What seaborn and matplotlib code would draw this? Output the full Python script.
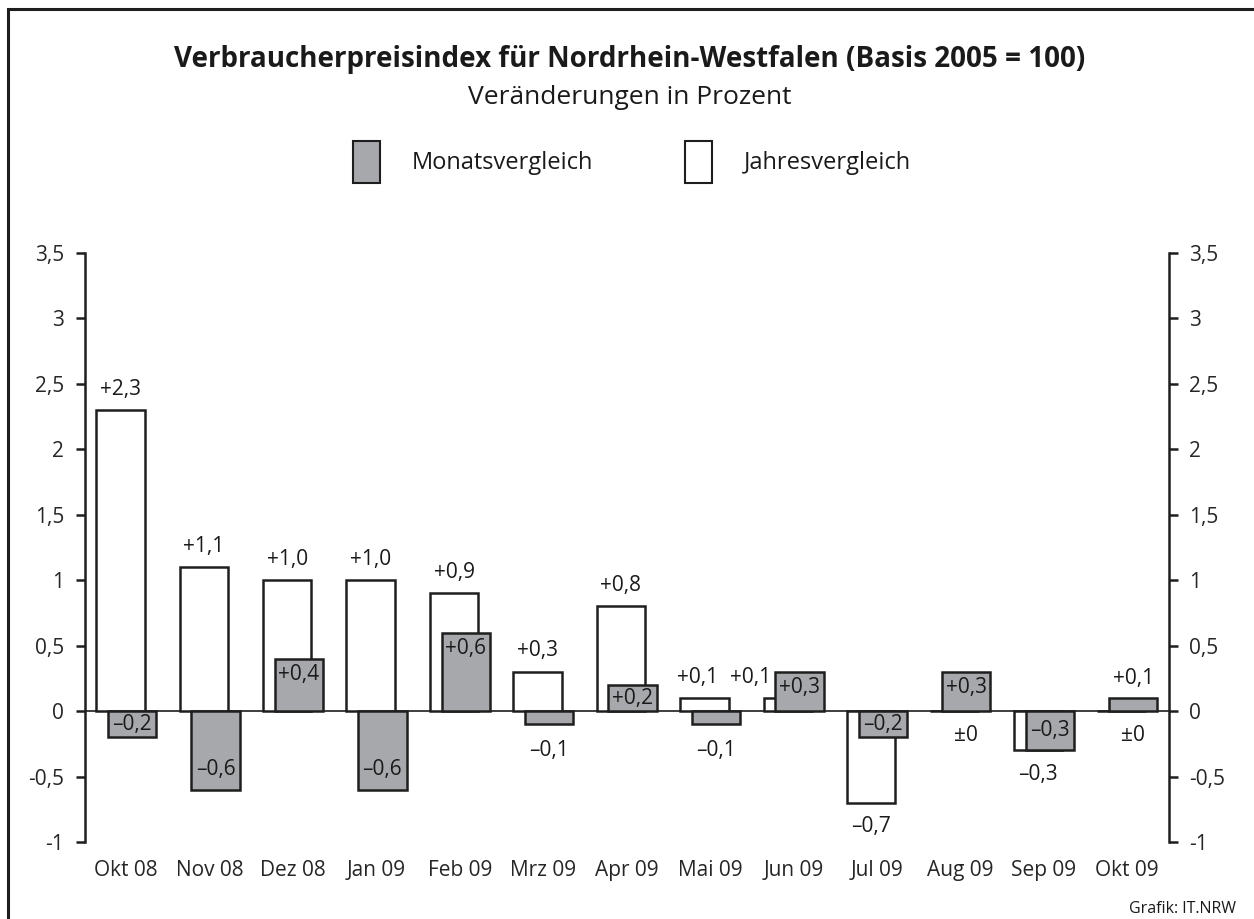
import numpy as np
import pandas as pd
import matplotlib
matplotlib.use("Agg")
import matplotlib.pyplot as plt
from matplotlib.patches import Patch, Rectangle
from matplotlib.ticker import FuncFormatter
import seaborn as sns

# ---------------- data ----------------
months = ["Okt 08", "Nov 08", "Dez 08", "Jan 09", "Feb 09", "Mrz 09", "Apr 09",
          "Mai 09", "Jun 09", "Jul 09", "Aug 09", "Sep 09", "Okt 09"]
monatsvergleich = [-0.2, -0.6, 0.4, -0.6, 0.6, -0.1, 0.2, -0.1, 0.3, -0.2, 0.3, -0.3, 0.1]
jahresvergleich = [2.3, 1.1, 1.0, 1.0, 0.9, 0.3, 0.8, 0.1, 0.1, -0.7, 0.0, -0.3, 0.0]
yticks = [-1, -0.5, 0, 0.5, 1, 1.5, 2, 2.5, 3, 3.5]

title = "Verbraucherpreisindex für Nordrhein-Westfalen (Basis 2005 = 100)"
subtitle = "Veränderungen in Prozent"
legend_labels = ["Monatsvergleich", "Jahresvergleich"]
source = "Grafik: IT.NRW"

# ---------------- style ----------------
sns.set_style("white")
plt.rcParams["font.family"] = ["Open Sans", "DejaVu Sans"]
plt.rcParams["text.color"] = "#1a1a1a"

GRAY = "#a7a8ac"
EDGE = "#1e1e1e"
FS = 15

fig = plt.figure(figsize=(12.54, 9.19), dpi=100)
ax = fig.add_axes([84.5 / 1254, 1 - 842 / 919, (1169 - 84.5) / 1254, (842 - 253) / 919])

idx = np.arange(len(months))
off = 0.07
width = 0.58
pos_j = idx - off
pos_m = idx + off

ax.axhline(0, color=EDGE, lw=1.2, zorder=0.5)

sns.barplot(x=pos_j, y=jahresvergleich, native_scale=True, width=width,
            color="white", saturation=1, edgecolor=EDGE, linewidth=1.8,
            errorbar=None, ax=ax)
sns.barplot(x=pos_m, y=monatsvergleich, native_scale=True, width=width,
            color=GRAY, saturation=1, edgecolor=EDGE, linewidth=1.8,
            errorbar=None, ax=ax)

ax.set_xlim(-0.5, 12.5)
ax.set_ylim(-1, 3.5)
ax.set_xlabel("")
ax.set_ylabel("")
ax.set_xticks(idx)
ax.set_xticklabels(months, fontsize=FS)
ax.set_yticks(yticks)
ax.yaxis.set_major_formatter(FuncFormatter(lambda v, p: f"{v:g}".replace(".", ",")))
ax.tick_params(axis="x", length=0, pad=13)
ax.tick_params(axis="y", which="major", direction="out", length=6.5, width=1.8,
               color=EDGE, labelsize=FS, pad=8, left=True, right=True,
               labelleft=True, labelright=True)
for s in ["top", "bottom"]:
    ax.spines[s].set_visible(False)
for s in ["left", "right"]:
    ax.spines[s].set_visible(True)
    ax.spines[s].set_linewidth(1.8)
    ax.spines[s].set_color(EDGE)
ax.grid(False)


def fmt(v):
    if abs(v) < 1e-9:
        return "±0"
    s = f"{abs(v):.1f}".replace(".", ",")
    return ("+" if v > 0 else "\u2013") + s


px_per_unit = (842 - 253) / 4.5

# labels for Jahresvergleich (white bars)
for i, (j, m) in enumerate(zip(jahresvergleich, monatsvergleich)):
    x = pos_j[i]
    dx = 0
    if abs(j) < 1e-9:
        ax.annotate(fmt(j), (pos_m[i], 0), xytext=(0, -24), textcoords="offset pixels",
                    ha="center", va="center", fontsize=FS)
        continue
    if m > 0 and m >= j:
        dx = -37
    elif j > 0 and m < 0 and j < 0.2:
        dx = -7
    dy = 21 if j > 0 else -24
    ax.annotate(fmt(j), (x, j), xytext=(dx, dy), textcoords="offset pixels",
                ha="center", va="center", fontsize=FS)

# labels for Monatsvergleich (gray bars)
for i, m in enumerate(monatsvergleich):
    x = pos_m[i]
    h = abs(m) * px_per_unit
    if abs(m) >= 0.2:
        dy = -min(16, h / 2) if m > 0 else min(20, h / 2)
    else:
        dy = 20 if m > 0 else -26
    ax.annotate(fmt(m), (x, m), xytext=(0, dy), textcoords="offset pixels",
                ha="center", va="center", fontsize=FS)

# titles
fig.text(0.502, 1 - 59 / 919, title, ha="center", va="center",
         fontsize=20, fontweight="bold")
fig.text(0.502, 1 - 97 / 919, subtitle, ha="center", va="center", fontsize=19)

# legend
handles = [Patch(facecolor=GRAY, edgecolor=EDGE, linewidth=1.5),
           Patch(facecolor="white", edgecolor=EDGE, linewidth=1.5)]
fig.legend(handles, legend_labels, loc="center", bbox_to_anchor=(0.504, 1 - 162 / 919),
           ncol=2, frameon=False, fontsize=17, handlelength=1.15, handleheight=2.4,
           handletextpad=1.35, columnspacing=3.9)

# source
fig.text(1236 / 1254, 1 - 909 / 919, source, ha="right", va="center", fontsize=11.5)

# border (left and top visible)
fig.add_artist(Rectangle((8 / 1254, -0.1), 1.2, 0.1 + (1 - 9 / 919),
                         transform=fig.transFigure, fill=False, edgecolor=EDGE,
                         linewidth=2.2, clip_on=False))

fig.savefig("out.png", dpi=100)
